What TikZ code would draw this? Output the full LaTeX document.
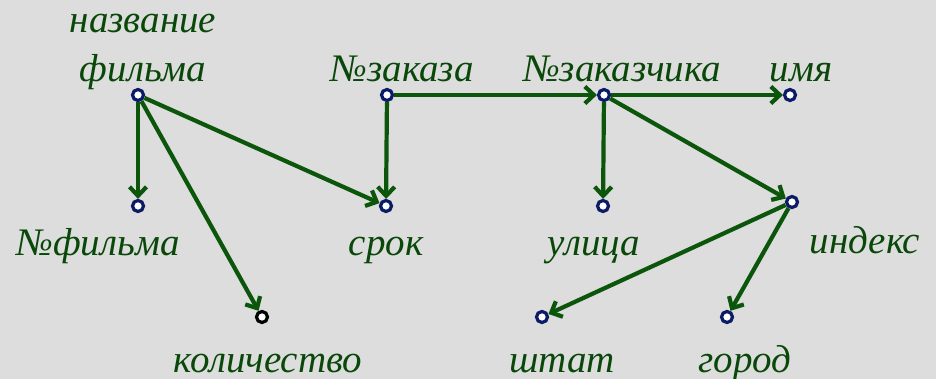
\documentclass[tikz,border=0pt]{standalone}
\usepackage{fontspec}
\setmainfont{Liberation Serif}
\newfontfamily\lblfont{Liberation Serif}
\usetikzlibrary{arrows.meta}
\definecolor{depgreen}{HTML}{0B560B}
\definecolor{textgreen}{HTML}{0A480A}
\definecolor{dotblue}{HTML}{0B1B66}
\definecolor{marble}{HTML}{DDDDDD}

\tikzset{
  attr/.style={circle, draw=dotblue, line width=3.2pt, fill=white, inner sep=0pt, minimum size=11pt},
  lbl/.style={anchor=base, text=textgreen, inner sep=0pt, font=\lblfont\itshape\fontsize{39}{45}\selectfont},
  dep/.style={draw=depgreen, line width=4.2pt, -{Straight Barb[length=9pt,width=17pt]}},
}

\begin{document}
\begin{tikzpicture}[x=1pt, y=-1pt]
    % background
    \fill[marble] (0,0) rectangle (936,379);
    \useasboundingbox (0,0) rectangle (936,379);

    % attribute points
    \node[attr] (film)    at (138,95)  {};
    \node[attr] (order)   at (387,95)  {};
    \node[attr] (client)  at (604,95)  {};
    \node[attr] (name)    at (790,95)  {};
    \node[attr] (filmno)  at (138,206) {};
    \node[attr] (term)    at (386,206) {};
    \node[attr, draw=black] (amount) at (262,317) {};
    \node[attr] (street)  at (603,206) {};
    \node[attr] (zip)     at (792,202) {};
    \node[attr] (state)   at (542,317) {};
    \node[attr] (city)    at (727,317) {};

    % attribute names
    \node[lbl] (filmtxt1)   at (143,33)  {название};
    \node[lbl] (filmtxt2)   at (143,82)  {фильма};
    \node[lbl] (ordertxt)   at (402,82)  {№заказа};
    \node[lbl] (clienttxt)  at (622,82)  {№заказчика};
    \node[lbl] (nametxt)    at (801,82)  {имя};
    \node[lbl] (filmnotxt)  at (98,255)  {№фильма};
    \node[lbl] (termtxt)    at (386,255) {срок};
    \node[lbl] (amounttxt)  at (268,372) {количество};
    \node[lbl] (streettxt)  at (594,255) {улица};
    \node[lbl] (ziptxt)     at (865,254) {индекс};
    \node[lbl] (statetxt)   at (562,372) {штат};
    \node[lbl] (citytxt)    at (745,372) {город};

    % dependencies
    \draw[dep] (film) -- (filmno);
    \draw[dep] (film) -- (amount);
    \draw[dep] (film) -- (term);
    \draw[dep] (order) -- (term);
    \draw[dep] (order) -- (client);
    \draw[dep] (client) -- (name);
    \draw[dep] (client) -- (street);
    \draw[dep] (client) -- (zip);
    \draw[dep] (zip) -- (state);
    \draw[dep] (zip) -- (city);
\end{tikzpicture}
\end{document}
